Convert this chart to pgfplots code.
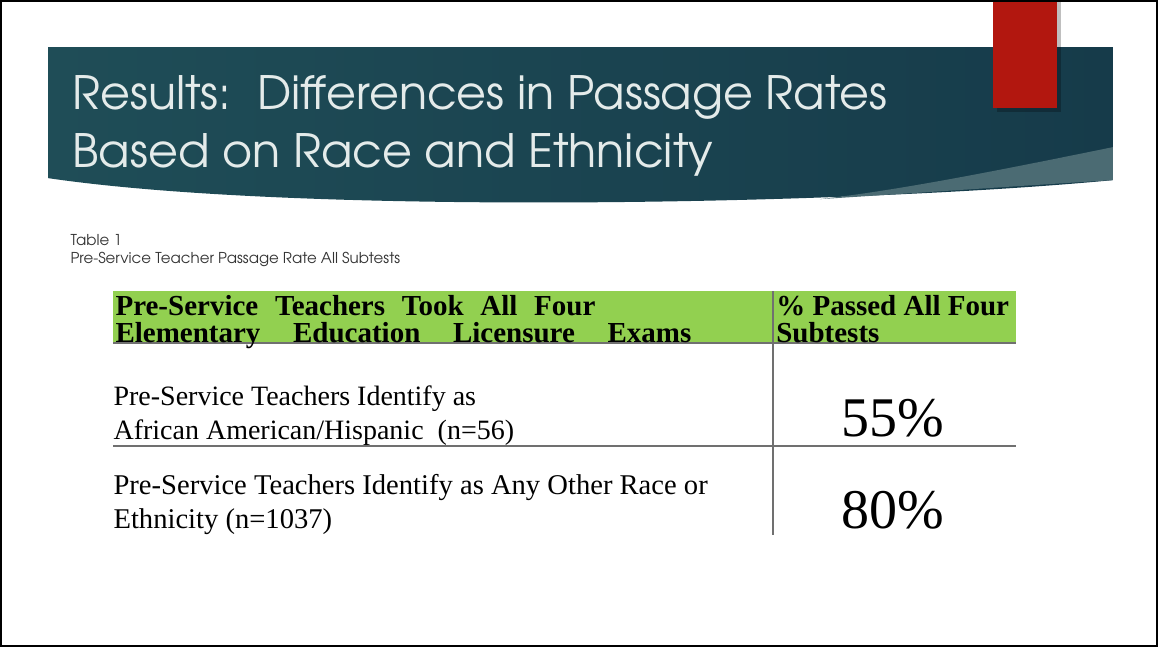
\documentclass[border=0pt]{standalone}
\usepackage{pgfplots}
\pgfplotsset{compat=1.18}
\usepackage{fontspec}
\setmainfont{Liberation Serif}
\newfontfamily\gothic{texgyreadventor-regular.otf}

\definecolor{tealL}{HTML}{1F4D57}
\definecolor{tealM}{HTML}{2F6B67}
\definecolor{tealR}{HTML}{163B4A}
\definecolor{wedge}{HTML}{4B6B73}
\definecolor{slidered}{HTML}{B2170F}
\definecolor{hdrgreen}{HTML}{92D050}
\definecolor{titlegray}{HTML}{E4EBEA}
\definecolor{rulegray}{HTML}{707070}

\begin{document}
\begin{tikzpicture}
\begin{axis}[scale only axis, width=579pt, height=323.5pt,
  xmin=0, xmax=1158, ymin=0, ymax=647, y dir=reverse,
  hide axis, clip=false,
  /pgf/number format/assume math mode=true]

% slide banner
\shade[left color=tealL, middle color=tealM, right color=tealR]
  (axis cs:48,47) -- (axis cs:1113,47) -- (axis cs:1113,180)
  .. controls (axis cs:850,205) and (axis cs:300,215) .. (axis cs:48,178) -- cycle;
\fill[wedge] (axis cs:1113,147) .. controls (axis cs:1000,170) and (axis cs:900,190) .. (axis cs:820,199)
  .. controls (axis cs:930,192) and (axis cs:1030,185) .. (axis cs:1113,180) -- cycle;
\fill[black, opacity=.25] (axis cs:997,0) rectangle (axis cs:1061,112);
\fill[slidered] (axis cs:993,0) rectangle (axis cs:1057,108);

% title
\node[anchor=base west, text=titlegray, font=\gothic\fontsize{23}{28}\selectfont, inner sep=0]
  at (axis cs:72,109) {Results:\ \ Differences in Passage Rates};
\node[anchor=base west, text=titlegray, font=\gothic\fontsize{23}{28}\selectfont, inner sep=0]
  at (axis cs:72,167) {Based on Race and Ethnicity};

% caption
\node[anchor=base west, text=black!80, font=\gothic\fontsize{7.5}{9}\selectfont, inner sep=0]
  at (axis cs:70,245) {Table 1};
\node[anchor=base west, text=black!80, font=\gothic\fontsize{7.5}{9}\selectfont, inner sep=0]
  at (axis cs:70,263) {Pre-Service Teacher Passage Rate All Subtests};

% table
\fill[hdrgreen] (axis cs:113,291) rectangle (axis cs:1016,343);
\draw[rulegray, line width=0.8pt] (axis cs:113,343) -- (axis cs:1016,343);
\draw[rulegray, line width=0.6pt] (axis cs:113,446) -- (axis cs:1016,446);
\draw[rulegray, line width=0.6pt] (axis cs:773,291) -- (axis cs:773,535);

\node[anchor=north west, align=left, font=\bfseries\fontsize{14.5}{13.5}\selectfont, inner sep=0]
  at (axis cs:115,295) {\makebox[240pt][s]{Pre-Service Teachers Took All Four}\\
  \makebox[288pt][s]{Elementary Education Licensure Exams}};
\node[anchor=north west, align=left, font=\bfseries\fontsize{14.5}{13.5}\selectfont, inner sep=0]
  at (axis cs:776,295) {\%\ Passed All Four\\Subtests};

\node[anchor=north west, align=left, font=\fontsize{14}{17}\selectfont, inner sep=0]
  at (axis cs:113,385) {Pre-Service Teachers Identify as\\
  African American/Hispanic\ \ (n=56)};
\node[anchor=north west, align=left, font=\fontsize{14.3}{17}\selectfont, inner sep=0]
  at (axis cs:113,474) {Pre-Service Teachers Identify as Any Other Race or\\
  Ethnicity (n=1037)};

% passage rates
\addplot[draw=none, mark=none, point meta=explicit,
  nodes near coords={\pgfmathprintnumber{\pgfplotspointmeta}\%},
  nodes near coords style={anchor=center, font=\fontsize{28}{32}\selectfont, inner sep=0}]
  coordinates {(893,418) [55] (893,510) [80]};

% slide frame
\draw[black, line width=1.2pt] (axis cs:1,1) rectangle (axis cs:1157,646);
\end{axis}
\end{tikzpicture}
\end{document}
